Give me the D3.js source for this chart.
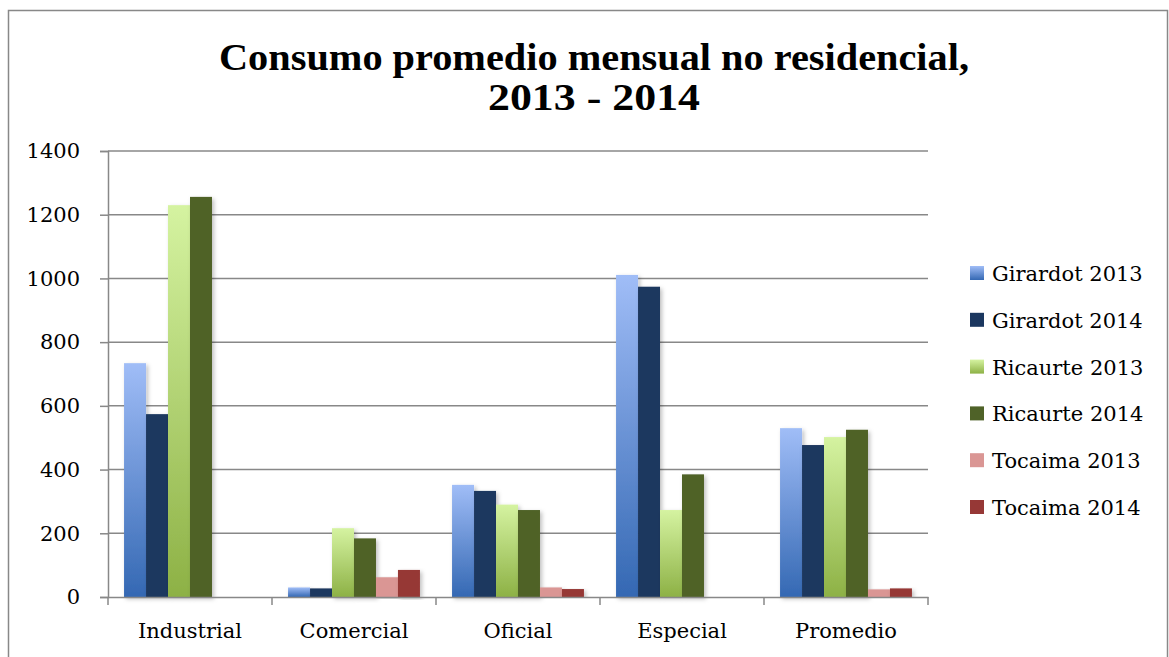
<!DOCTYPE html>
<html>
<head>
<meta charset="utf-8">
<script src="https://cdn.jsdelivr.net/npm/d3@7"></script>
<style>
  body { margin: 0; background: #fff; }
  text { font-family: "DejaVu Serif", "Liberation Serif", serif; }
</style>
</head>
<body>
<div id="container"></div>
<script>
// Data
const categories = ["Industrial", "Comercial", "Oficial", "Especial", "Promedio"];
const seriesNames = ["Girardot 2013", "Girardot 2014", "Ricaurte 2013", "Ricaurte 2014", "Tocaima 2013", "Tocaima 2014"];
const girardot2013 = [734, 30, 352, 1011, 530];
const girardot2014 = [574, 27, 333, 974, 477];
const ricaurte2013 = [1230, 216, 290, 273, 502];
const ricaurte2014 = [1256, 184, 273, 385, 525];
const tocaima2013 = [0, 62, 30, 0, 24];
const tocaima2014 = [0, 85, 25, 0, 27];
const yTicks = [0, 200, 400, 600, 800, 1000, 1200, 1400];

const seriesValues = [girardot2013, girardot2014, ricaurte2013, ricaurte2014, tocaima2013, tocaima2014];

// fill: [top, bottom] for gradients
const seriesFills = [
  ["#a0bdf7", "#3468b3"],
  ["#1b375f", "#1b375f"],
  ["#d5f3a1", "#8db145"],
  ["#4f6228", "#4f6228"],
  ["#da9694", "#da9694"],
  ["#963836", "#963836"]
];

const width = 1169, height = 657;
const margin = { left: 108, right: 241, top: 151, bottom: 60 };
const labelFont = "'DejaVu Serif', serif";

const svg = d3.select("#container").append("svg")
  .attr("width", width)
  .attr("height", height);

const defs = svg.append("defs");
seriesFills.forEach((f, i) => {
  const g = defs.append("linearGradient")
    .attr("id", "grad" + i)
    .attr("x1", 0).attr("y1", 0).attr("x2", 0).attr("y2", 1);
  g.append("stop").attr("offset", "0%").attr("stop-color", f[0]);
  g.append("stop").attr("offset", "100%").attr("stop-color", f[1]);
});
const shadow = defs.append("filter").attr("id", "shadow")
  .attr("x", "-20%").attr("y", "-5%").attr("width", "160%").attr("height", "115%");
shadow.append("feDropShadow")
  .attr("dx", 2).attr("dy", 2).attr("stdDeviation", 2)
  .attr("flood-color", "#000").attr("flood-opacity", 0.25);

// chart border
svg.append("rect")
  .attr("x", 8.5).attr("y", 10.5)
  .attr("width", 1159).attr("height", 660)
  .attr("fill", "none")
  .attr("stroke", "#888")
  .attr("stroke-width", 1.5);

// title, two lines
const titleLines = [
  { text: "Consumo promedio mensual no residencial,", y: 70, len: 750 },
  { text: "2013 - 2014", y: 110, len: 212 }
];
svg.append("g")
  .selectAll("text")
  .data(titleLines)
  .join("text")
  .attr("x", 594)
  .attr("y", d => d.y)
  .attr("text-anchor", "middle")
  .attr("font-weight", "bold")
  .attr("font-size", 37)
  .attr("textLength", d => d.len)
  .attr("lengthAdjust", "spacingAndGlyphs")
  .attr("fill", "#000")
  .style("font-family", "'Liberation Serif', serif")
  .text(d => d.text);

const x = d3.scaleBand()
  .domain(categories)
  .range([margin.left, width - margin.right]);

const y = d3.scaleLinear()
  .domain([0, 1400])
  .range([597, margin.top]);

const inner = d3.scaleBand()
  .domain(d3.range(seriesNames.length))
  .range([0, x.bandwidth()])
  .paddingOuter(0.73);

// gridlines
svg.append("g")
  .selectAll("line")
  .data(yTicks.filter(d => d > 0))
  .join("line")
  .attr("x1", margin.left).attr("x2", width - margin.right)
  .attr("y1", d => y(d)).attr("y2", d => y(d))
  .attr("stroke", "#888")
  .attr("stroke-width", 1.5);

// bars
seriesValues.forEach((vals, si) => {
  svg.append("g")
    .selectAll("rect")
    .data(vals.map((v, ci) => ({ cat: categories[ci], v })))
    .join("rect")
    .filter(d => d.v > 0)
    .attr("x", d => x(d.cat) + inner(si))
    .attr("width", inner.bandwidth())
    .attr("y", d => y(d.v))
    .attr("height", d => y(0) - y(d.v))
    .attr("fill", "url(#grad" + si + ")")
    .attr("filter", "url(#shadow)");
});

// y axis
const yAxis = svg.append("g")
  .attr("transform", `translate(${margin.left},0)`)
  .call(d3.axisLeft(y).tickValues(yTicks).tickFormat(d3.format("d")).tickSize(8).tickPadding(20));
yAxis.selectAll("line").attr("stroke", "#888").attr("stroke-width", 1.5);
yAxis.select(".domain").attr("stroke", "#888").attr("stroke-width", 1.5);
yAxis.attr("font-size", 21).attr("font-family", labelFont);
yAxis.selectAll("text").attr("fill", "#000");

// x axis
const xAxis = svg.append("g")
  .attr("transform", `translate(0,${y(0)})`)
  .call(d3.axisBottom(x).tickSize(0).tickPadding(26));
xAxis.select(".domain").attr("stroke", "#888").attr("stroke-width", 1.5);
xAxis.attr("font-size", 21).attr("font-family", labelFont);
xAxis.selectAll("text").attr("fill", "#000");
xAxis.append("g")
  .selectAll("line")
  .data(categories.concat([null]))
  .join("line")
  .attr("x1", (d, i) => i < categories.length ? x(d) : x(categories[i - 1]) + x.bandwidth())
  .attr("x2", (d, i) => i < categories.length ? x(d) : x(categories[i - 1]) + x.bandwidth())
  .attr("y1", 0).attr("y2", 8)
  .attr("stroke", "#888").attr("stroke-width", 1.5);

// legend
const legend = svg.append("g")
  .attr("transform", "translate(970,273)");
const item = legend.selectAll("g")
  .data(seriesNames)
  .join("g")
  .attr("transform", (d, i) => `translate(0,${i * 46.8})`);
item.append("rect")
  .attr("x", 0).attr("y", -7)
  .attr("width", 14).attr("height", 14)
  .attr("fill", (d, i) => "url(#grad" + i + ")");
item.append("text")
  .attr("x", 22).attr("y", 8)
  .attr("font-size", 21)
  .attr("fill", "#000")
  .style("font-family", labelFont)
  .text(d => d);
</script>
</body>
</html>
